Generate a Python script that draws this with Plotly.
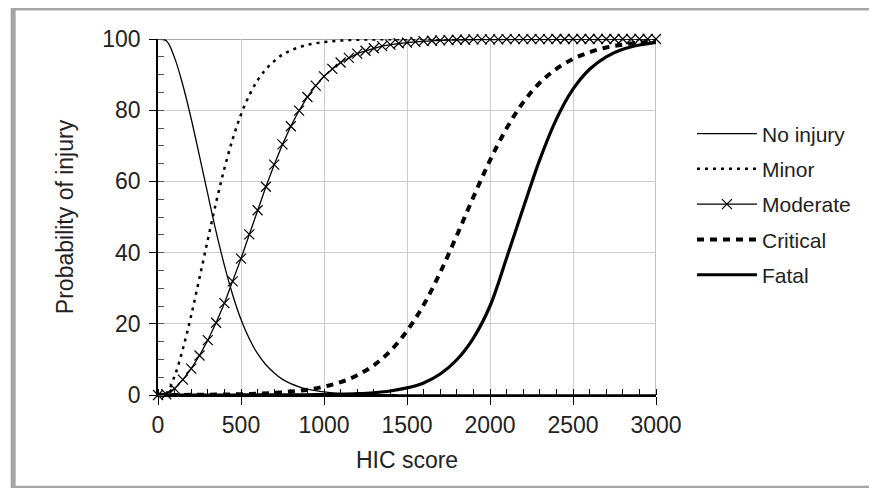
import plotly.graph_objects as go

# HIC score sampling (every 50) for fine series
hic_50 = [0, 50, 100, 150, 200, 250, 300, 350, 400, 450, 500, 550, 600, 650, 700, 750,
          800, 850, 900, 950, 1000, 1050, 1100, 1150, 1200, 1250, 1300, 1350, 1400, 1450,
          1500, 1550, 1600, 1650, 1700, 1750, 1800, 1850, 1900, 1950, 2000, 2050, 2100,
          2150, 2200, 2250, 2300, 2350, 2400, 2450, 2500, 2550, 2600, 2650, 2700, 2750,
          2800, 2850, 2900, 2950, 3000]
# HIC score sampling (every 100) for the slow series
hic_100 = [0, 100, 200, 300, 400, 500, 600, 700, 800, 900, 1000, 1100, 1200, 1300, 1400,
           1500, 1600, 1700, 1800, 1900, 2000, 2100, 2200, 2300, 2400, 2500, 2600, 2700,
           2800, 2900, 3000]

no_injury = [100, 99.5, 94.7, 87.0, 77.6, 67.1, 56.4, 45.9, 36.4, 28.1, 21.2, 15.8, 11.6,
             8.5, 6.2, 4.4, 3.2, 2.3, 1.65, 1.2, 0.85, 0.6, 0.44, 0.31, 0.23, 0.16, 0.12,
             0.1, 0.08, 0.06, 0.05, 0.04, 0.03, 0.02, 0.02, 0.01, 0.01, 0.01, 0, 0, 0, 0, 0,
             0, 0, 0, 0, 0, 0, 0, 0, 0, 0, 0, 0, 0, 0, 0, 0, 0, 0]
minor = [0, 0.5, 5.3, 13.0, 22.4, 32.9, 43.6, 54.1, 63.6, 71.9, 78.8, 84.2, 88.4, 91.5,
         93.8, 95.6, 96.8, 97.7, 98.35, 98.8, 99.15, 99.4, 99.56, 99.69, 99.77, 99.84,
         99.88, 99.9, 99.92, 99.94, 99.95, 99.96, 99.97, 99.98, 99.98, 99.99, 99.99, 99.99,
         100, 100, 100, 100, 100, 100, 100, 100, 100, 100, 100, 100, 100, 100, 100, 100,
         100, 100, 100, 100, 100, 100, 100]
moderate = [0, 0.2, 1.8, 4.3, 7.4, 11.1, 15.4, 20.3, 25.8, 31.9, 38.3, 45.1, 51.9, 58.5,
            64.7, 70.4, 75.5, 79.9, 83.7, 86.9, 89.5, 91.6, 93.4, 94.7, 95.9, 96.7, 97.4,
            98.0, 98.4, 98.8, 99.0, 99.2, 99.4, 99.5, 99.6, 99.7, 99.8, 99.8, 99.9, 99.9,
            99.9, 99.9, 99.95, 99.96, 99.97, 99.97, 99.98, 99.98, 99.99, 99.99, 99.99, 100,
            100, 100, 100, 100, 100, 100, 100, 100, 100]
critical = [0, 0.01, 0.04, 0.08, 0.14, 0.23, 0.38, 0.6, 0.96, 1.5, 2.34, 3.62, 5.53, 8.34,
            12.4, 18.0, 25.3, 34.4, 44.8, 55.6, 65.9, 74.9, 82.2, 87.7, 91.6, 94.4, 96.3,
            97.6, 98.4, 99.0, 99.3]
fatal = [0, 0, 0, 0, 0, 0.01, 0.01, 0.02, 0.03, 0.06, 0.11, 0.2, 0.36, 0.64, 1.13, 1.99,
         3.4, 5.9, 9.9, 16.0, 25.0, 38.5, 52.5, 66.1, 77.5, 85.9, 91.5, 95.0, 97.1, 98.3,
         99.05]

x_ticks = [0, 500, 1000, 1500, 2000, 2500, 3000]
y_ticks = [0, 20, 40, 60, 80, 100]

FONT = "Liberation Sans, Arial, sans-serif"
TXT = "#222222"

fig = go.Figure()
fig.add_trace(go.Scatter(x=hic_50, y=no_injury, name="No injury", mode="lines",
                         legendgroup="a",
                         line=dict(color="black", width=1.3, shape="spline")))
fig.add_trace(go.Scatter(x=hic_50, y=minor, name="Minor", mode="lines",
                         legendgroup="b",
                         line=dict(color="black", width=2.5, dash="3px,5px", shape="spline")))
fig.add_trace(go.Scatter(x=hic_50, y=moderate, name="Moderate", mode="lines+markers",
                         legendgroup="c",
                         line=dict(color="black", width=1.3),
                         marker=dict(symbol="x-thin", size=10,
                                     line=dict(color="black", width=1.2))))
fig.add_trace(go.Scatter(x=hic_100, y=critical, name="Critical", mode="lines",
                         legendgroup="d",
                         line=dict(color="black", width=4, dash="7px,6px", shape="spline")))
fig.add_trace(go.Scatter(x=hic_100, y=fatal, name="Fatal", mode="lines",
                         legendgroup="e",
                         line=dict(color="black", width=3.2, shape="spline")))

for tr in fig.data:
    tr.cliponaxis = False

# figure is placed 8px in from the page corner, so size/positions are in figure px
FW, FH = 869, 480
L, R, T, B = 149.5, 648.0, 30.5, 387.0
W, H = R - L, B - T

def px(xp):
    return (xp - L) / W

def py(yp):
    return (B - yp) / H

fig.update_layout(
    width=FW, height=FH,
    margin=dict(l=L, r=FW - R, t=T, b=FH - B, autoexpand=False),
    paper_bgcolor="white", plot_bgcolor="white",
    font=dict(family=FONT, size=22, color=TXT),
    showlegend=True,
    legend=dict(x=px(684), y=py(105), xanchor="left", yanchor="top",
                font=dict(family=FONT, size=21, color=TXT),
                itemwidth=60, tracegroupgap=5, bgcolor="rgba(0,0,0,0)",
                itemclick=False),
    xaxis=dict(range=[0, 3000], tickvals=x_ticks, ticktext=[str(v) for v in x_ticks],
               automargin=False,
               showline=True, linecolor="black", linewidth=1.5,
               ticks="outside", ticklen=8, tickcolor="black", tickwidth=1.3,
               showgrid=True, gridcolor="#cccccc", gridwidth=1, zeroline=False,
               minor=dict(dtick=100, ticks="inside", ticklen=6, tickcolor="black",
                          tickwidth=1, showgrid=False),
               tickfont=dict(size=23, color=TXT), ticklabelstandoff=1,
               title=dict(text="HIC score", font=dict(size=23, color=TXT), standoff=15)),
    yaxis=dict(range=[0, 100], tickvals=y_ticks, ticktext=[str(v) for v in y_ticks],
               automargin=False,
               showline=True, linecolor="black", linewidth=1.5,
               ticks="outside", ticklen=7, tickcolor="black", tickwidth=1.3,
               showgrid=True, gridcolor="#cccccc", gridwidth=1, zeroline=False,
               minor=dict(dtick=5, ticks="inside", ticklen=6, tickcolor="#555555",
                          tickwidth=1, showgrid=False),
               tickfont=dict(size=23, color=TXT), ticklabelstandoff=4,
               title=dict(text="Probability of injury", font=dict(size=23, color=TXT),
                          standoff=22)),
    shapes=[
        dict(type="line", xref="x", yref="y", x0=0, x1=3000, y0=100, y1=100,
             line=dict(color="#888888", width=1.6), layer="below"),
        dict(type="line", xref="x", yref="y", x0=3000, x1=3000, y0=0, y1=100,
             line=dict(color="#999999", width=1.2), layer="below"),
        dict(type="rect", xref="paper", yref="paper",
             x0=px(4.5), x1=px(865.5), y0=py(480.5), y1=py(-0.5),
             line=dict(color="#a5a5a5", width=5), fillcolor="rgba(0,0,0,0)"),
    ],
)

fig.write_html("out.html")
